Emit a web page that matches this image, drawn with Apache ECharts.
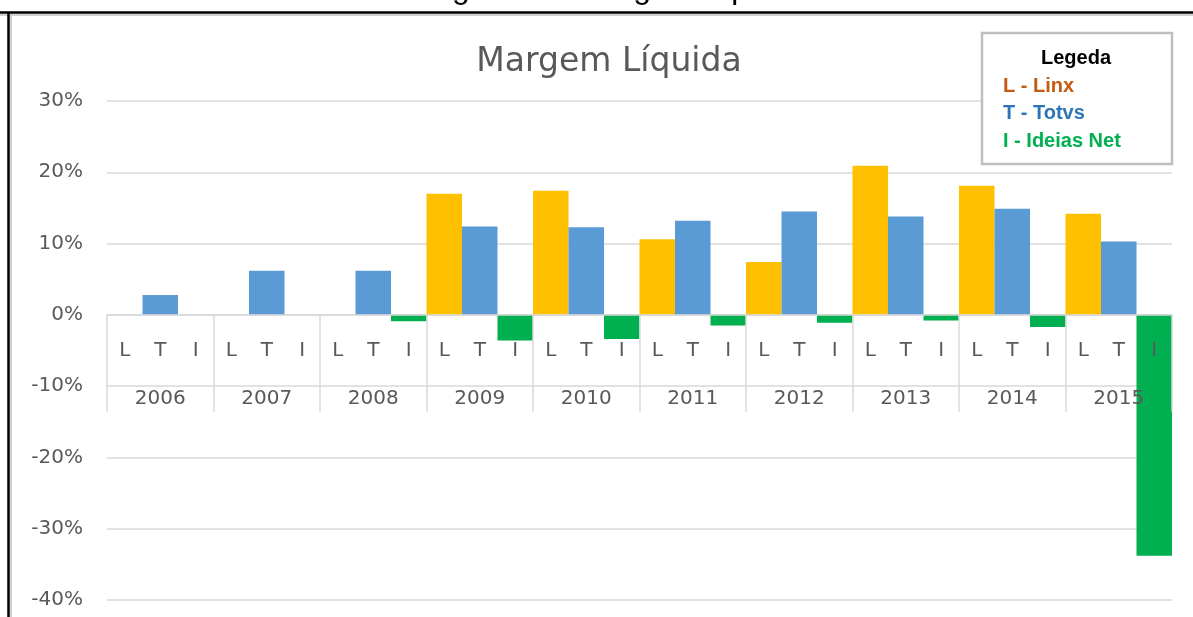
<!DOCTYPE html>
<html>
<head>
<meta charset="utf-8">
<title>Margem Líquida</title>
<script src="https://cdn.jsdelivr.net/npm/echarts@6/dist/echarts.min.js"></script>
<style>
  html, body { margin: 0; padding: 0; background: #fff; }
  #main { width: 1193px; height: 617px; }
</style>
</head>
<body>
<div id="main"></div>
<script>
  // dados (margem líquida, %)
  var years = ['2006', '2007', '2008', '2009', '2010', '2011', '2012', '2013', '2014', '2015']
  var codes = ['L', 'T', 'I']
  var linx = ['-', '-', '-', 17.0, 17.4, 10.6, 7.4, 20.9, 18.1, 14.2]
  var totvs = [2.8, 6.2, 6.2, 12.4, 12.3, 13.2, 14.5, 13.8, 14.9, 10.3]
  var ideias = ['-', '-', -0.9, -3.6, -3.4, -1.5, -1.1, -0.8, -1.7, -33.8]
  var yTicks = [-40, -30, -20, -10, 0, 10, 20, 30]
  var legendItems = ['L - Linx', 'T - Totvs', 'I - Ideias Net']

  var barColors = {L: '#FFC000', T: '#5B9BD5', I: '#00B050'}
  var legendColors = ['#C55A11', '#2E75B6', '#00B050']
  var axisFont = 'DejaVu Sans'
  var textGray = '#595959'
  var lineGray = '#d9d9d9'

  var gridTop = 101
  var gridBottom = 17
  var chartH = 617
  var yMin = yTicks[0]
  var yMax = yTicks[yTicks.length - 1]
  // eixo de categorias colocado sobre o zero
  var zeroOffset = -(chartH - gridTop - gridBottom) * (0 - yMin) / (yMax - yMin)

  // 30 categorias: ano|letra
  var categories = []
  var barData = []
  years.forEach(function (yr, i) {
    var vals = {L: linx[i], T: totvs[i], I: ideias[i]}
    codes.forEach(function (c) {
      categories.push(yr + '|' + c)
      barData.push({value: vals[c], itemStyle: {color: barColors[c]}})
    })
  })

  var legendText = legendItems.map(function (t, i) {
    return {
      type: 'text',
      x: 1003,
      y: 86 + i * 27.5,
      z: 20,
      style: {text: t, fill: legendColors[i], font: 'bold 20px "Liberation Sans"', verticalAlign: 'middle'}
    }
  })

  var option = {
    animation: false,
    backgroundColor: '#fff',
    grid: {left: 107, right: 21, top: gridTop, bottom: gridBottom, outerBoundsMode: 'none', containLabel: false},
    xAxis: {
      type: 'category',
      data: categories,
      position: 'bottom',
      offset: zeroOffset,
      z: 3,
      axisLine: {onZero: false, lineStyle: {color: lineGray, width: 1.5}},
      axisTick: {
        show: true,
        length: 97,
        interval: function (index) { return index % 3 === 0 },
        lineStyle: {color: lineGray, width: 1.5}
      },
      axisLabel: {
        interval: 0,
        margin: 26,
        hideOverlap: false,
        formatter: function (value) {
          var parts = value.split('|')
          if (parts[1] === 'T') return '{c|T}\n{y|' + parts[0] + '}'
          return '{c|' + parts[1] + '}'
        },
        rich: {
          c: {fontFamily: axisFont, fontSize: 20, lineHeight: 20, color: textGray},
          y: {fontFamily: axisFont, fontSize: 20, lineHeight: 76, color: textGray}
        }
      }
    },
    yAxis: {
      type: 'value',
      min: yMin,
      max: yMax,
      interval: 10,
      axisLine: {show: false},
      axisTick: {show: false},
      axisLabel: {
        formatter: '{value}%',
        margin: 24,
        fontFamily: axisFont,
        fontSize: 20,
        color: textGray
      },
      splitLine: {lineStyle: {color: lineGray, width: 1.5}}
    },
    series: [
      {
        type: 'bar',
        data: barData,
        barCategoryGap: '0%',
        barWidth: '100%'
      }
    ],
    graphic: [
      // legenda do documento (cortada no topo)
      {
        type: 'text',
        x: 612,
        y: 5,
        style: {
          text: 'Figura 1 – Margem líquida',
          font: '32px "Liberation Sans"',
          fill: '#000',
          align: 'center',
          verticalAlign: 'bottom'
        }
      },
      {type: 'line', shape: {x1: 0, y1: 15, x2: 1193, y2: 15}, style: {stroke: '#d0d0d0', lineWidth: 2}},
      {type: 'line', shape: {x1: 0, y1: 12.5, x2: 1193, y2: 12.5}, style: {stroke: '#000', lineWidth: 2.5}},
      {type: 'line', shape: {x1: 11, y1: 14, x2: 11, y2: 617}, style: {stroke: '#d0d0d0', lineWidth: 2}},
      {type: 'line', shape: {x1: 8.5, y1: 12, x2: 8.5, y2: 617}, style: {stroke: '#000', lineWidth: 2.5}},
      // titulo
      {
        type: 'text',
        x: 609,
        y: 62,
        style: {
          text: 'Margem Líquida',
          font: '33px "DejaVu Sans"',
          fill: textGray,
          align: 'center',
          verticalAlign: 'middle'
        }
      },
      // caixa da legenda
      {
        type: 'rect',
        z: 10,
        shape: {x: 982, y: 33, width: 190, height: 131},
        style: {fill: '#fff', stroke: '#bfbfbf', lineWidth: 2.5}
      },
      {
        type: 'text',
        x: 1076,
        y: 58,
        z: 20,
        style: {
          text: 'Legeda',
          font: 'bold 20px "Liberation Sans"',
          fill: '#000',
          align: 'center',
          verticalAlign: 'middle'
        }
      }
    ].concat(legendText)
  }

  var chart = echarts.init(document.getElementById('main'))
  chart.setOption(option)
</script>
</body>
</html>
